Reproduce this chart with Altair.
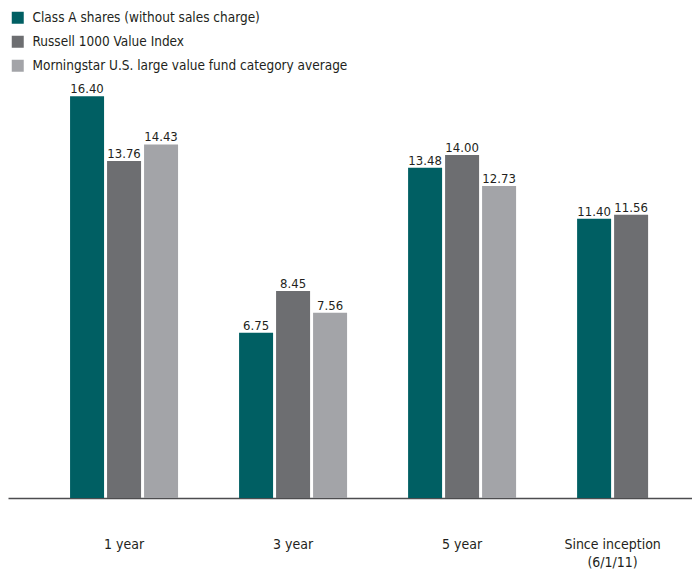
import altair as alt
import pandas as pd

periods = ["1 year", "3 year", "5 year", "Since inception (6/1/11)"]
period_labels = ["1 year", "3 year", "5 year", "Since inception|(6/1/11)"]
series = [
    "Class A shares (without sales charge)",
    "Russell 1000 Value Index",
    "Morningstar U.S. large value fund category average",
]
class_a = [16.40, 6.75, 13.48, 11.40]
russell = [13.76, 8.45, 14.00, 11.56]
morningstar = [14.43, 7.56, 12.73, None]
colors = ["#005f63", "#6d6e71", "#a3a4a8"]

FONT = "Liberation Sans Narrow, Arial Narrow, DejaVu Sans Condensed, sans-serif"
TEXT_COLOR = "#231f20"

rows = []
for s, vals in zip(series, [class_a, russell, morningstar]):
    for p, v in zip(periods, vals):
        if v is not None:
            rows.append({"period": p, "series": s, "value": v})
df = pd.DataFrame(rows)

lab_df = pd.DataFrame({"period": periods, "label": period_labels})

x_enc = alt.X(
    "period:N",
    sort=periods,
    scale=alt.Scale(paddingInner=0.361, paddingOuter=0.204, align=0.9),
    axis=alt.Axis(
        title=None, labels=False, ticks=False, grid=False,
        domain=True, domainColor="#4d4d4f", domainWidth=1.5,
    ),
)
xoff_enc = alt.XOffset(
    "series:N", sort=series,
    scale=alt.Scale(domain=series, paddingInner=0.081, paddingOuter=0),
)
y_enc = alt.Y("value:Q", scale=alt.Scale(domain=[0, 20], nice=False), axis=None)

bars = alt.Chart(df).mark_bar().encode(
    x=x_enc,
    xOffset=xoff_enc,
    y=y_enc,
    color=alt.Color(
        "series:N",
        sort=series,
        scale=alt.Scale(domain=series, range=colors),
        legend=alt.Legend(
            title=None, orient="none", legendX=3, legendY=3,
            symbolType="square", symbolSize=144, symbolStrokeWidth=0,
            labelFont=FONT, labelFontSize=13.5, labelColor=TEXT_COLOR,
            labelOffset=8, rowPadding=9, padding=0, labelLimit=0,
        ),
    ),
)

values = alt.Chart(df).mark_text(
    font=FONT, fontSize=13, color=TEXT_COLOR, baseline="alphabetic", dy=-3
).encode(
    x=alt.X("period:N", sort=periods),
    xOffset=alt.XOffset("series:N", sort=series),
    y=alt.Y("value:Q"),
    text=alt.Text("value:Q", format=".2f"),
)

cat_main = alt.Chart(lab_df).transform_filter(
    "datum.period != 'Since inception (6/1/11)'"
).mark_text(
    font=FONT, fontSize=14, color=TEXT_COLOR, baseline="top", lineBreak="|", lineHeight=18
).encode(
    x=alt.X("period:N", sort=periods),
    y=alt.value(530),
    text="label:N",
)

cat_since = alt.Chart(lab_df).transform_filter(
    "datum.period == 'Since inception (6/1/11)'"
).mark_text(
    font=FONT, fontSize=14, color=TEXT_COLOR, baseline="top", lineBreak="|", lineHeight=18, dx=-18.5
).encode(
    x=alt.X("period:N", sort=periods),
    y=alt.value(530),
    text="label:N",
)

chart = alt.layer(bars, values, cat_main, cat_since).properties(
    width=684, height=490, padding=0
).configure_view(stroke=None)

chart.save("out.html", embed_options={"renderer": "svg", "actions": False})
